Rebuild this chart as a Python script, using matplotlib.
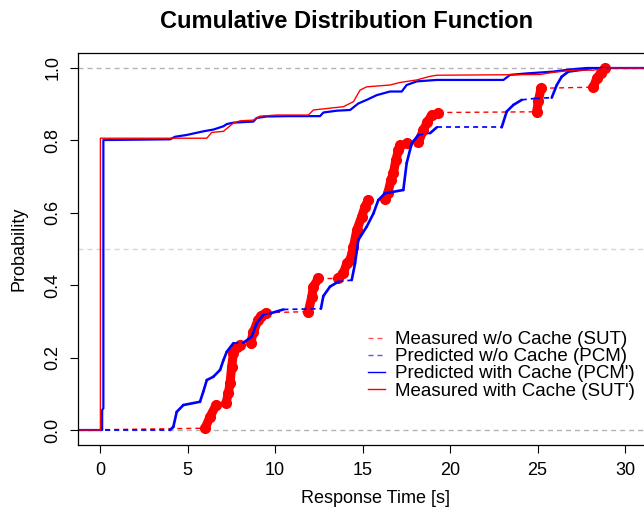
import matplotlib as mpl
mpl.use('Agg')
import matplotlib.pyplot as plt
from matplotlib.collections import LineCollection
from matplotlib.lines import Line2D
import numpy as np

plt.rcParams['font.family'] = ['Liberation Sans', 'DejaVu Sans']
plt.rcParams['lines.scale_dashes'] = False

# Measured w/o Cache (SUT): jump points, grouped in runs of dense samples
sut_x = [6.00, 6.29, 6.63,
         7.20, 7.33, 7.43, 7.52, 7.62, 7.81, 8.00,
         8.60, 8.76, 9.03, 9.20, 9.49,
         11.90, 12.10, 12.19, 12.48,
         13.62, 13.90, 14.10, 14.29, 14.48, 14.67, 14.95, 15.14, 15.33,
         16.30, 16.45, 16.62, 16.76, 16.90, 17.05, 17.14,
         17.56,
         18.19, 18.48, 18.70, 18.95,
         19.33,
         24.95, 25.05, 25.20,
         28.19, 28.38, 28.60, 28.86]
sut_p = [0.005, 0.037, 0.069,
         0.075, 0.101, 0.130, 0.175, 0.212, 0.230, 0.235,
         0.240, 0.270, 0.304, 0.315, 0.324,
         0.327, 0.368, 0.396, 0.419,
         0.419, 0.433, 0.460, 0.470, 0.506, 0.552, 0.589, 0.617, 0.635,
         0.638, 0.655, 0.690, 0.709, 0.745, 0.773, 0.787,
         0.792,
         0.795, 0.829, 0.850, 0.870,
         0.877,
         0.879, 0.910, 0.944,
         0.947, 0.971, 0.985, 1.000]
sut_run = [0]*3 + [1]*7 + [2]*5 + [3]*4 + [4]*9 + [5]*7 + [6] + [7]*4 + [8] + [9]*3 + [10]*4

# Predicted w/o Cache (PCM)
pcm_x = [4.00, 4.19, 4.38, 4.76, 5.71, 5.90, 6.10, 6.47, 6.86, 7.05, 7.24, 7.62,
         8.19, 8.67, 8.95, 9.33, 9.71, 10.48, 12.62, 12.76, 13.14, 13.62, 14.38,
         14.57, 14.76, 15.24, 15.62, 15.90, 16.29, 17.33, 17.52, 17.81, 18.19,
         18.86, 19.24, 22.95, 23.24, 23.62, 24.10, 24.86, 25.81, 26.10, 26.38,
         26.76, 27.81, 28.50]
pcm_p = [0.000, 0.009, 0.050, 0.069, 0.078, 0.106, 0.138, 0.147, 0.166, 0.193, 0.216, 0.240,
         0.241, 0.258, 0.295, 0.318, 0.322, 0.333, 0.335, 0.370, 0.396, 0.410, 0.414,
         0.460, 0.525, 0.562, 0.598, 0.635, 0.654, 0.663, 0.737, 0.792, 0.815,
         0.820, 0.836, 0.836, 0.880, 0.898, 0.912, 0.916, 0.918, 0.953, 0.976,
         0.990, 0.997, 1.000]

# Predicted with Cache (PCM')
pcmc_x = [0.12, 0.12, 0.19, 0.19, 4.00, 4.29, 4.95, 5.90, 6.48, 7.05, 7.24, 7.62,
          8.76, 8.95, 9.52, 10.67, 12.57, 12.76, 13.52, 14.29, 14.76, 15.24, 15.81,
          16.57, 17.24, 17.52, 18.10, 19.24, 23.05, 23.43, 24.38, 25.90, 26.86, 27.81]
pcmc_p = [0.000, 0.055, 0.060, 0.801, 0.803, 0.810, 0.815, 0.825, 0.830, 0.839, 0.845, 0.849,
          0.852, 0.862, 0.866, 0.867, 0.867, 0.877, 0.882, 0.884, 0.902, 0.912, 0.925,
          0.935, 0.935, 0.953, 0.963, 0.967, 0.967, 0.981, 0.985, 0.990, 0.996, 1.000]

# Measured with Cache (SUT')
sutc_x = [0.02, 0.02, 6.10, 6.38, 7.05, 7.62, 8.00, 8.76, 9.14, 10.10, 11.90, 12.19,
          12.95, 13.90, 14.48, 14.86, 15.24, 16.57, 17.14, 18.10, 18.86, 19.24,
          25.14, 25.90, 27.05, 28.19, 28.95]
sutc_p = [0.000, 0.806, 0.806, 0.822, 0.825, 0.848, 0.854, 0.856, 0.867, 0.870, 0.870, 0.884,
          0.888, 0.893, 0.907, 0.939, 0.948, 0.953, 0.960, 0.967, 0.977, 0.980,
          0.982, 0.988, 0.994, 0.994, 1.000]

labels = ['Measured w/o Cache (SUT)', 'Predicted w/o Cache (PCM)',
          'Predicted with Cache (PCM\')', 'Measured with Cache (SUT\')']

xlo, xhi = -1.26, 32.74
dash = (0, (3.6, 2.9))


def trace(x, p):
    # curve extended flat to both sides of the plot, like an ecdf
    xs = np.r_[xlo, x, xhi]
    ps = np.r_[0.0, p, 1.0]
    return xs, ps


def dashed_curve(ax, x, p, color, lw):
    # long flat pieces dashed, densely stepped rising pieces come out solid
    xs, ps = trace(x, p)
    pts = np.column_stack([xs, ps])
    segs = np.stack([pts[:-1], pts[1:]], axis=1)
    flat = np.abs(np.diff(ps)) < 0.006
    ax.add_collection(LineCollection(segs[flat], colors=color, linewidths=lw * 0.65,
                                     linestyles=[dash]))
    ax.add_collection(LineCollection(segs[~flat], colors=color, linewidths=lw,
                                     capstyle='round', joinstyle='round'))


fig = plt.figure(figsize=(6.44, 5.12), dpi=100)
ax = fig.add_axes([78/644, 67/512, 595/644, 392/512])

ax.axhline(0, color='#b3b3b3', lw=1, ls=dash)
ax.axhline(1, color='#b3b3b3', lw=1, ls=dash)
ax.axhline(0.5, color='#d6d6d6', lw=1, ls=dash)

# SUT
sx = np.array(sut_x)
sp = np.array(sut_p)
sr = np.array(sut_run)
xs, ps = trace(sx, sp)
pts = np.column_stack([xs, ps])
segs = np.stack([pts[:-1], pts[1:]], axis=1)
ax.add_collection(LineCollection(segs, colors='red', linewidths=1, linestyles=[dash]))
for r in np.unique(sr):
    m = sr == r
    ax.plot(sx[m], sp[m], color='red', lw=6.5, solid_capstyle='round',
            marker='o', ms=7, mec='red', mfc='red')

# PCM
dashed_curve(ax, pcm_x, pcm_p, 'blue', 1.9)

# PCM'
xs, ps = trace(pcmc_x, pcmc_p)
ax.plot(xs, ps, color='blue', lw=1.6)

# SUT'
xs, ps = trace(sutc_x, sutc_p)
ax.plot(xs, ps, color='red', lw=1)

ax.set_xlim(xlo, xhi)
ax.set_ylim(-0.0414, 1.0414)
ax.set_xticks([0, 5, 10, 15, 20, 25, 30])
ax.set_yticks([0, 0.2, 0.4, 0.6, 0.8, 1.0])
ax.set_yticklabels(['0.0', '0.2', '0.4', '0.6', '0.8', '1.0'], rotation=90, va='center')
ax.tick_params(labelsize=13, length=6, width=0.8, pad=6)
for s in ax.spines.values():
    s.set_linewidth(0.9)

ax.set_xlabel('Response Time [s]', fontsize=13, labelpad=8.5)
ax.set_ylabel('Probability', fontsize=13, labelpad=12)
fig.text(347/644, 1 - 21/512, 'Cumulative Distribution Function', fontsize=17,
         fontweight='bold', ha='center', va='center')

handles = [Line2D([], [], color='#ff5555', lw=1, ls=dash),
           Line2D([], [], color='#5555ff', lw=1, ls=dash),
           Line2D([], [], color='blue', lw=1),
           Line2D([], [], color='red', lw=1)]
fig.legend(handles, labels, loc='upper left', bbox_to_anchor=(368/644, 1 - 331/512),
           frameon=False, fontsize=13.5, handlelength=0.9, handletextpad=0.55,
           labelspacing=0.0, borderpad=0, borderaxespad=0)

plt.savefig('out.png', dpi=100)
